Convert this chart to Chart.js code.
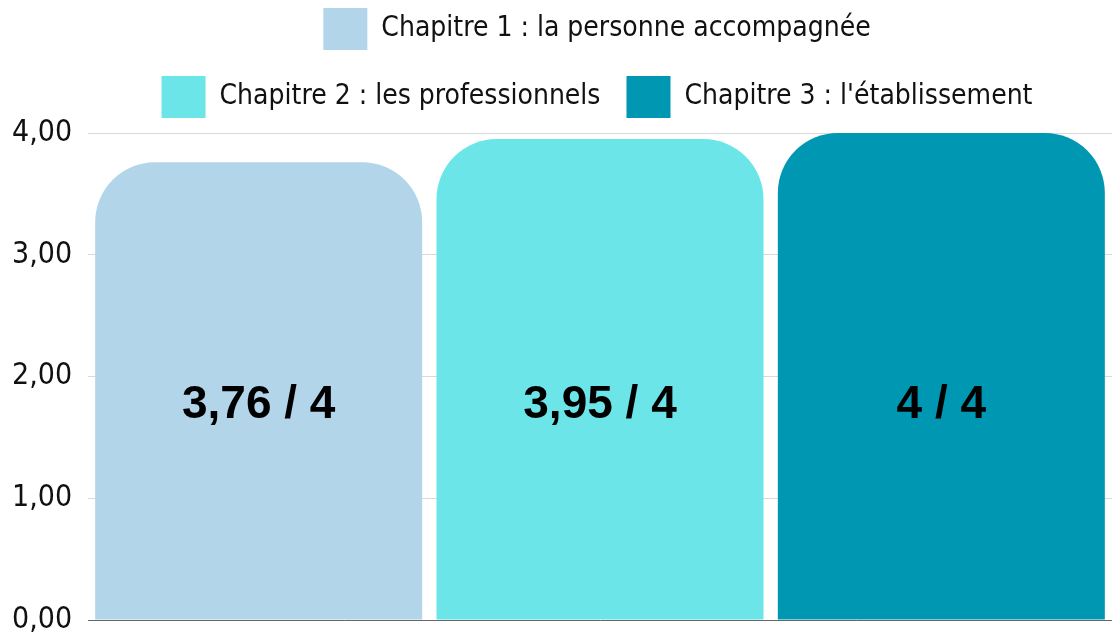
<!DOCTYPE html>
<html><head><meta charset="utf-8">
<script src="https://cdn.jsdelivr.net/npm/chart.js@4/dist/chart.umd.min.js"></script>
<style>html,body{margin:0;padding:0;background:#fff;}#wrap{width:1112px;height:641px;position:relative;}</style>
</head><body><div id="wrap"><canvas id="c"></canvas></div>
<script>
const categories = [""];
const seriesNames = ["Chapitre 1 : la personne accompagnée", "Chapitre 2 : les professionnels", "Chapitre 3 : l'établissement"];
const chapitre1 = [3.76];
const chapitre2 = [3.95];
const chapitre3 = [4];
const maxScore = 4;
const yTicks = [0, 1, 2, 3, 4];
const colors = ["#B3D5EA", "#6CE5E8", "#0097B2"];

const FONT = "'Liberation Sans Narrow', 'DejaVu Sans Condensed', sans-serif";

const labelPlugin = {
  id: 'barLabels',
  afterInit(chart) {
    const lg = chart.legend;
    if (lg) {
      const orig = lg.fit;
      lg.fit = function () {
        const mw = this.maxWidth;
        this.maxWidth = Math.min(mw, 1000);
        orig.call(this);
        this.maxWidth = mw;
        this.width = mw;
        this.height += 5;
      };
      const origDraw = lg.draw;
      lg.draw = function () {
        const ctx = this.ctx;
        ctx.save();
        ctx.translate(35, 0);
        origDraw.call(this);
        ctx.restore();
      };
    }
  },
  afterDatasetsDraw(chart) {
    const ctx = chart.ctx;
    const y = chart.scales.y.getPixelForValue(1.76);
    ctx.save();
    ctx.font = "bold 46px 'Liberation Sans', sans-serif";
    ctx.fillStyle = '#000';
    ctx.textAlign = 'center';
    ctx.textBaseline = 'middle';
    chart.data.datasets.forEach((ds, i) => {
      const meta = chart.getDatasetMeta(i);
      meta.data.forEach((bar, j) => {
        const v = ds.data[j];
        ctx.fillText(String(v).replace('.', ',') + ' / ' + maxScore, bar.x, y);
      });
    });
    ctx.restore();
  }
};

const mk = (name, data, color) => ({
  label: name, data, backgroundColor: color, borderWidth: 0,
  borderRadius: {topLeft: 60, topRight: 60, bottomLeft: 0, bottomRight: 0},
  borderSkipped: 'bottom', categoryPercentage: 1, barPercentage: 0.958
});

new Chart(document.getElementById('c'), {
  type: 'bar',
  data: {
    labels: categories,
    datasets: [mk(seriesNames[0], chapitre1, colors[0]), mk(seriesNames[1], chapitre2, colors[1]), mk(seriesNames[2], chapitre3, colors[2])]
  },
  options: {
    responsive: true, maintainAspectRatio: false, animation: false,
    layout: {padding: {left: 12, right: 0, top: -18, bottom: 21}},
    plugins: {
      tooltip: {enabled: false},
      legend: {
        position: 'top',
        labels: {boxWidth: 44, boxHeight: 42, padding: 26, color: '#111', font: {family: FONT, size: 28}}
      }
    },
    scales: {
      x: {
        ticks: {display: false},
        grid: {display: false, drawTicks: false},
        border: {display: true, color: '#666', width: 1}
      },
      y: {
        min: 0, max: 4,
        afterBuildTicks(ax) { ax.ticks = yTicks.map(v => ({value: v})); },
        afterFit(ax) { ax.width = 76; },
        ticks: {
          crossAlign: 'far', padding: 10, color: '#111',
          font: {family: FONT, size: 30, lineHeight: 0.5},
          callback: v => Number(v).toFixed(2).replace('.', ',')
        },
        grid: {color: '#d9d9d9', drawTicks: false},
        border: {display: false}
      }
    }
  },
  plugins: [labelPlugin]
});
</script></body></html>
